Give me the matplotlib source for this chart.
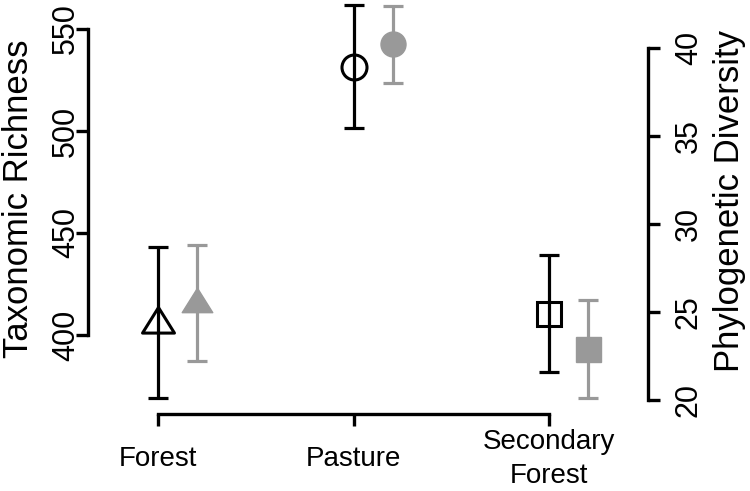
import numpy as np
import matplotlib
matplotlib.use('Agg')
import matplotlib.pyplot as plt

plt.rcParams['font.family'] = ['Liberation Sans', 'DejaVu Sans']

# land-use categories
sites = ['Forest', 'Pasture', 'Secondary\nForest']

# taxonomic richness (left axis), mean and error
rich_mean = [406.1, 531.6, 410.5]
rich_err = [37.0, 30.1, 28.7]

# phylogenetic diversity (right axis), mean and error
pd_mean = [25.5, 40.2, 22.9]
pd_err = [3.3, 2.2, 2.8]

rich_ticks = [400, 450, 500, 550]
pd_ticks = [20, 25, 30, 35, 40]

grey = '#999999'
tri = [(0, 1), (-1, -0.6), (1, -0.6), (0, 1)]
markers = [tri, 'o', 's']
black_ms = [23, 18, 17.5]
grey_ms = [22, 18, 18]

fig = plt.figure(figsize=(7.5, 4.91), dpi=100)
ax = fig.add_axes([88 / 750, 1 - 414 / 491, 560 / 750, 414 / 491])
ax2 = ax.twinx()

x = np.arange(1, len(sites) + 1)
off = 0.2

ax.errorbar(x, rich_mean, yerr=rich_err, fmt='none', ecolor='black',
            elinewidth=2.3, capsize=7.2, capthick=2.3, clip_on=False)
ax2.errorbar(x + off, pd_mean, yerr=pd_err, fmt='none', ecolor=grey,
             elinewidth=2.3, capsize=7.2, capthick=2.3, clip_on=False)
for i in range(len(sites)):
    ax.plot(x[i], rich_mean[i], marker=markers[i], ms=black_ms[i],
            mfc='none', mec='black', mew=2.2, ls='none', clip_on=False)
    ax2.plot(x[i] + off, pd_mean[i], marker=markers[i], ms=grey_ms[i],
             mfc=grey, mec=grey, mew=1, ls='none', clip_on=False)

ax.set_xlim(1 - 70 / 195.5, 3 + 99 / 195.5)
ax.set_ylim(400 - 79 / 2.04, 400 + 335 / 2.04)
ax2.set_ylim(20 - 14 / 17.6, 20 + 400 / 17.6)

for s in ['top', 'right']:
    ax.spines[s].set_visible(False)
for s in ['top', 'left', 'bottom']:
    ax2.spines[s].set_visible(False)
ax.spines['bottom'].set_bounds(1, 3)
ax.spines['left'].set_bounds(400, 550)
ax2.spines['right'].set_bounds(20, 40)
for sp in [ax.spines['bottom'], ax.spines['left'], ax2.spines['right']]:
    sp.set_linewidth(2.4)
    sp.set_capstyle('projecting')

ax.set_xticks(x, labels=sites, va='center', fontsize=20, linespacing=1.4)
ax.set_yticks(rich_ticks, labels=[str(t) for t in rich_ticks],
              rotation=90, va='center', fontsize=22)
ax2.set_yticks(pd_ticks, labels=[str(t) for t in pd_ticks],
               rotation=90, va='center', fontsize=22)
ax.tick_params(axis='x', direction='out', length=8.6, width=2.4, pad=23.5)
ax.tick_params(axis='y', direction='out', length=8.6, width=2.4, pad=-3.5)
ax2.tick_params(axis='y', direction='out', length=8.6, width=2.4, pad=10)

fig.text(19 / 750, 1 - 199 / 491, 'Taxonomic Richness', rotation=90,
         ha='center', va='center', fontsize=25)
fig.text(729 / 750, 1 - 201 / 491, 'Phylogenetic Diversity', rotation=90,
         ha='center', va='center', fontsize=25)

fig.savefig('out.png', dpi=100)
